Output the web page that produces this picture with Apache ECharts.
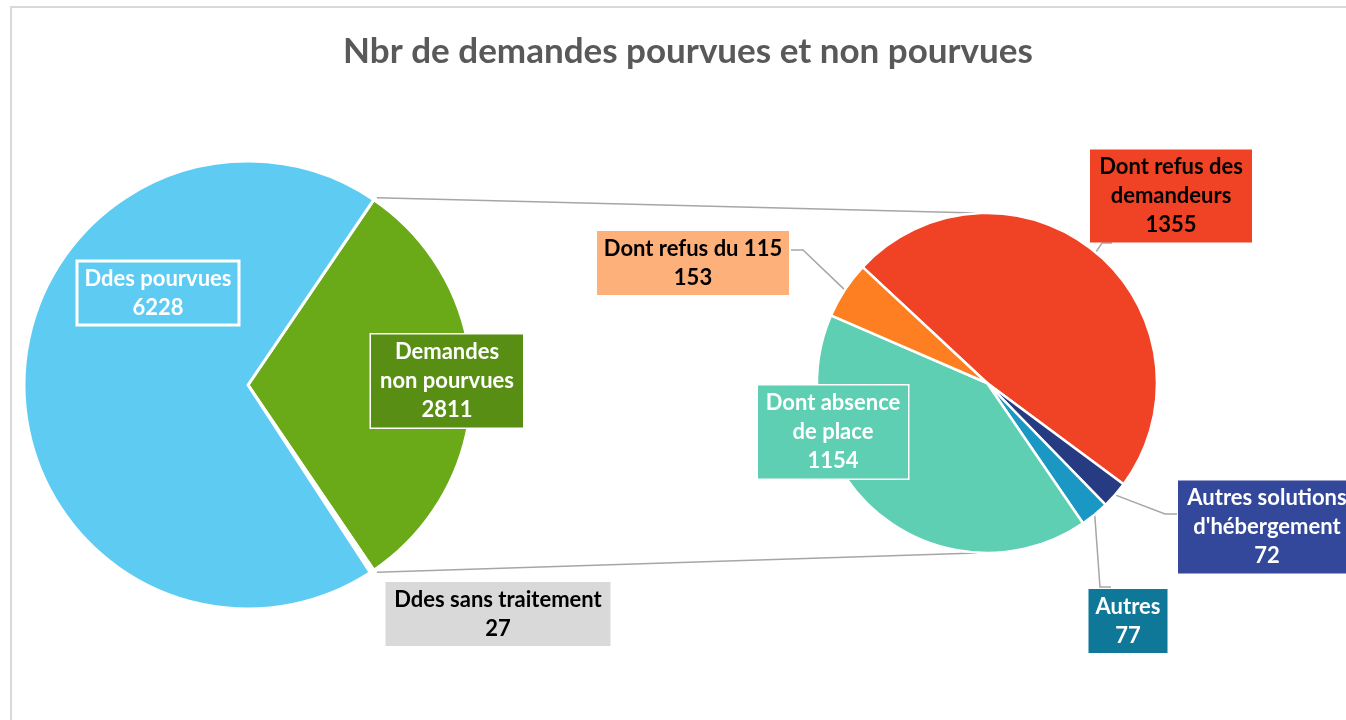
<!DOCTYPE html>
<html>
<head>
<meta charset="utf-8">
<script src="https://cdn.jsdelivr.net/npm/echarts@6/dist/echarts.min.js"></script>
<style>
  html, body { margin: 0; padding: 0; background: #ffffff; }
  #chart { width: 1346px; height: 720px; }
</style>
</head>
<body>
<div id="chart"></div>
<script>
// ---- data ----
const mainNames  = ['Demandes non pourvues', 'Ddes sans traitement', 'Ddes pourvues'];
const mainLabels = ['Demandes\nnon pourvues', 'Ddes sans traitement', 'Ddes pourvues'];
const mainValues = [2811, 27, 6228];

const detailNames  = ['Dont refus des demandeurs', "Autres solutions d'hébergement", 'Autres', 'Dont absence de place', 'Dont refus du 115'];
const detailLabels = ['Dont refus des\ndemandeurs', "Autres solutions\nd'hébergement", 'Autres', 'Dont absence\nde place', 'Dont refus du 115'];
const detailValues = [1355, 72, 77, 1154, 153];

const titleText = 'Nbr de demandes pourvues et non pourvues';

// ---- layout & styles ----
const FONT = 'Lato, "Open Sans", sans-serif';
const mainPie   = { cx: 248, cy: 385, r: 224 };
const detailPie = { cx: 987, cy: 383, r: 170, startAngle: 137 };

const mainStyle = [
  { color: '#6aaa18', label: { bg: '#588e14', fg: '#ffffff', border: '#ffffff', w: 152, x: 447, y: 381 } },
  { color: '#ffffff', label: { bg: '#d9d9d9', fg: '#000000', border: null,      w: 225, x: 498, y: 614 } },
  { color: '#5ecbf2', label: { bg: 'transparent', fg: '#ffffff', border: '#ffffff', w: 162, x: 158, y: 293 } }
];
const detailStyle = [
  { color: '#f04325', label: { bg: '#f04326', fg: '#000000', border: null, w: 162, x: 1171, y: 196 }, elbow: [[1102, 243], [1112, 243]] },
  { color: '#263b82', label: { bg: '#33479b', fg: '#ffffff', border: null, w: 178, x: 1267, y: 527 }, elbow: [[1165, 514], [1177, 514]] },
  { color: '#1a98c3', label: { bg: '#0f7899', fg: '#ffffff', border: null, w: 79,  x: 1128, y: 621 }, elbow: [[1100, 587], [1111, 587]] },
  { color: '#5fcfb3', label: { bg: '#5ecfb2', fg: '#ffffff', border: '#ffffff', w: 150, x: 833, y: 432 }, elbow: null },
  { color: '#fd7f21', label: { bg: '#feb07b', fg: '#000000', border: null, w: 192, x: 693, y: 263 }, elbow: [[803, 250], [791, 250]] }
];

// ---- geometry helpers (angles follow the data) ----
const sum = a => a.reduce((s, v) => s + v, 0);
const mainTotal = sum(mainValues);
// the "non pourvues" wedge is centred on the right-hand side
const mainStart = mainValues[0] / mainTotal * 180;

function pointAt(pie, deg) {
  const rad = deg * Math.PI / 180;
  return [pie.cx + pie.r * Math.cos(rad), pie.cy - pie.r * Math.sin(rad)];
}
function midAngles(values, start) {
  const total = sum(values);
  let a = start;
  return values.map(v => {
    const span = v / total * 360;
    const mid = a - span / 2;
    a -= span;
    return mid;
  });
}
const detailMid = midAngles(detailValues, detailPie.startAngle);

function labelCfg(st) {
  return {
    show: true,
    formatter: '{b}\n{c}',
    color: st.fg,
    fontFamily: FONT,
    fontWeight: 'bold',
    fontSize: 22,
    lineHeight: 29,
    align: 'center',
    width: st.w,
    padding: [3, 0, 3, 0],
    backgroundColor: st.bg,
    borderColor: st.border || 'transparent',
    borderWidth: st.border ? 1.5 : 0
  };
}

const mainData = mainValues.map((v, i) => ({
  name: mainLabels[i],
  value: v,
  itemStyle: { color: mainStyle[i].color },
  label: labelCfg(mainStyle[i].label),
  labelLine: { show: false }
}));

const detailData = detailValues.map((v, i) => ({
  name: detailLabels[i],
  value: v,
  itemStyle: { color: detailStyle[i].color },
  label: labelCfg(detailStyle[i].label),
  labelLine: { show: !!detailStyle[i].elbow, lineStyle: { color: '#a6a6a6', width: 1.5 } }
}));

// connector lines from the split wedge to the top and bottom of the detail pie
const topStart = pointAt(mainPie, mainStart);
const botStart = pointAt(mainPie, -mainStart);
const topEnd = [detailPie.cx, detailPie.cy - detailPie.r];
const botEnd = [detailPie.cx, detailPie.cy + detailPie.r];

const chart = echarts.init(document.getElementById('chart'), null, { renderer: 'canvas' });

chart.setOption({
  backgroundColor: '#ffffff',
  animation: false,
  graphic: [
    { type: 'rect', z: 0, shape: { x: 11, y: 7, width: 1400, height: 800 },
      style: { fill: 'none', stroke: '#d9d9d9', lineWidth: 2 } },
    { type: 'text', z: 10, x: 688, y: 34,
      style: { text: titleText, fill: '#595959', font: 'bold 35px ' + FONT, textAlign: 'center' } },
    { type: 'line', z: 1, shape: { x1: topStart[0] + 3, y1: topStart[1] - 2, x2: topEnd[0] - 10, y2: topEnd[1] },
      style: { stroke: '#a6a6a6', lineWidth: 1.5 } },
    { type: 'line', z: 1, shape: { x1: botStart[0] + 3, y1: botStart[1] + 2, x2: botEnd[0] - 10, y2: botEnd[1] },
      style: { stroke: '#a6a6a6', lineWidth: 1.5 } }
  ],
  series: [
    {
      type: 'pie',
      name: 'Demandes',
      center: [mainPie.cx, mainPie.cy],
      radius: [0, mainPie.r],
      startAngle: mainStart,
      clockwise: true,
      avoidLabelOverlap: false,
      itemStyle: { borderColor: '#ffffff', borderWidth: 3 },
      data: mainData,
      labelLayout: p => {
        const st = mainStyle[p.dataIndex].label;
        return { x: st.x, y: st.y, align: 'center', verticalAlign: 'middle' };
      }
    },
    {
      type: 'pie',
      name: 'Demandes non pourvues',
      center: [detailPie.cx, detailPie.cy],
      radius: [0, detailPie.r],
      startAngle: detailPie.startAngle,
      clockwise: true,
      avoidLabelOverlap: false,
      itemStyle: { borderColor: '#ffffff', borderWidth: 2.5 },
      data: detailData,
      labelLayout: p => {
        const i = p.dataIndex;
        const st = detailStyle[i];
        const out = { x: st.label.x, y: st.label.y, align: 'center', verticalAlign: 'middle' };
        if (st.elbow) {
          out.labelLinePoints = [pointAt(detailPie, detailMid[i])].concat(st.elbow);
        }
        return out;
      }
    }
  ]
});
</script>
</body>
</html>
